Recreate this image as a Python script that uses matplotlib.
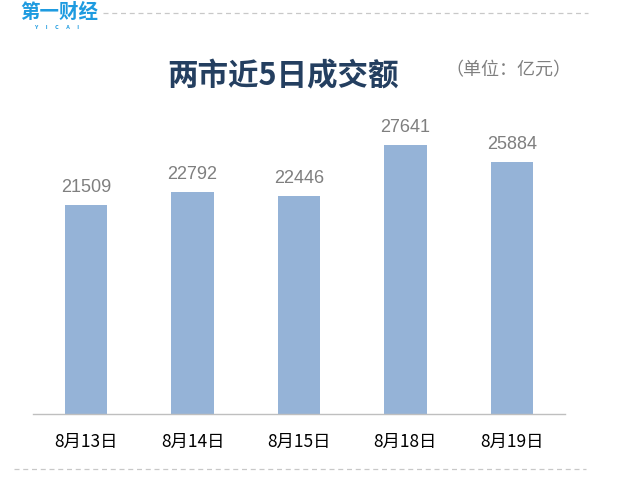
import matplotlib.pyplot as plt

plt.rcParams['font.family'] = ['Noto Sans CJK SC', 'DejaVu Sans']

# --- Data (亿元) ---
dates = ['8月13日', '8月14日', '8月15日', '8月18日', '8月19日']
turnover = [21509, 22792, 22446, 27641, 25884]

W, H = 629, 481
fig = plt.figure(figsize=(W / 100, H / 100), dpi=100)

# axes placed in pixel terms: left 33, right 565, bottom 415, top 123
ax = fig.add_axes([33 / W, 1 - 415 / H, 532 / W, 292 / H])
x = range(len(dates))
bars = ax.bar(x, turnover, width=0.40, color='#95B3D7')
ax.set_xlim(-0.5, len(dates) - 0.5)
ax.set_ylim(0, 30000)

for b, v in zip(bars, turnover):
    ax.text(b.get_x() + b.get_width() / 2, v + 1000, str(v),
            ha='center', va='bottom', fontsize=13, color='#7F7F7F',
            family='Liberation Sans')

ax.set_xticks(list(x))
ax.set_xticklabels(dates, fontsize=12.5, color='#000000')
ax.tick_params(axis='x', length=0, pad=13)
ax.set_yticks([])
for side in ['top', 'right', 'left']:
    ax.spines[side].set_visible(False)
ax.spines['bottom'].set_color('#BFBFBF')
ax.spines['bottom'].set_linewidth(1)

# title and unit
fig.text(283 / W, 1 - 76 / H, '两市近5日成交额', ha='center', va='center',
         fontsize=22, fontweight='bold', color='#243F60')
fig.text(508 / W, 1 - 70 / H, '（单位：亿元）', ha='center', va='center',
         fontsize=13, color='#7F7F7F')

# logo
fig.text(20 / W, 1 - 12 / H, '第一财经', ha='left', va='center',
         fontsize=14, fontweight='bold', color='#1E9BE0')
fig.text(57 / W, 1 - 27.5 / H, 'Y      I      C      A      I', ha='center',
         va='center', fontsize=4, fontweight='bold', color='#1E9BE0')

# dashed separator lines
fig.add_artist(plt.Line2D([103 / W, 588 / W], [1 - 14 / H, 1 - 14 / H],
                          transform=fig.transFigure, color='#C8C8C8',
                          linestyle=(0, (4, 3)), linewidth=0.9))
fig.add_artist(plt.Line2D([14 / W, 586 / W], [1 - 470 / H, 1 - 470 / H],
                          transform=fig.transFigure, color='#C8C8C8',
                          linestyle=(0, (4, 3)), linewidth=0.9))

plt.savefig('out.png', dpi=100)
